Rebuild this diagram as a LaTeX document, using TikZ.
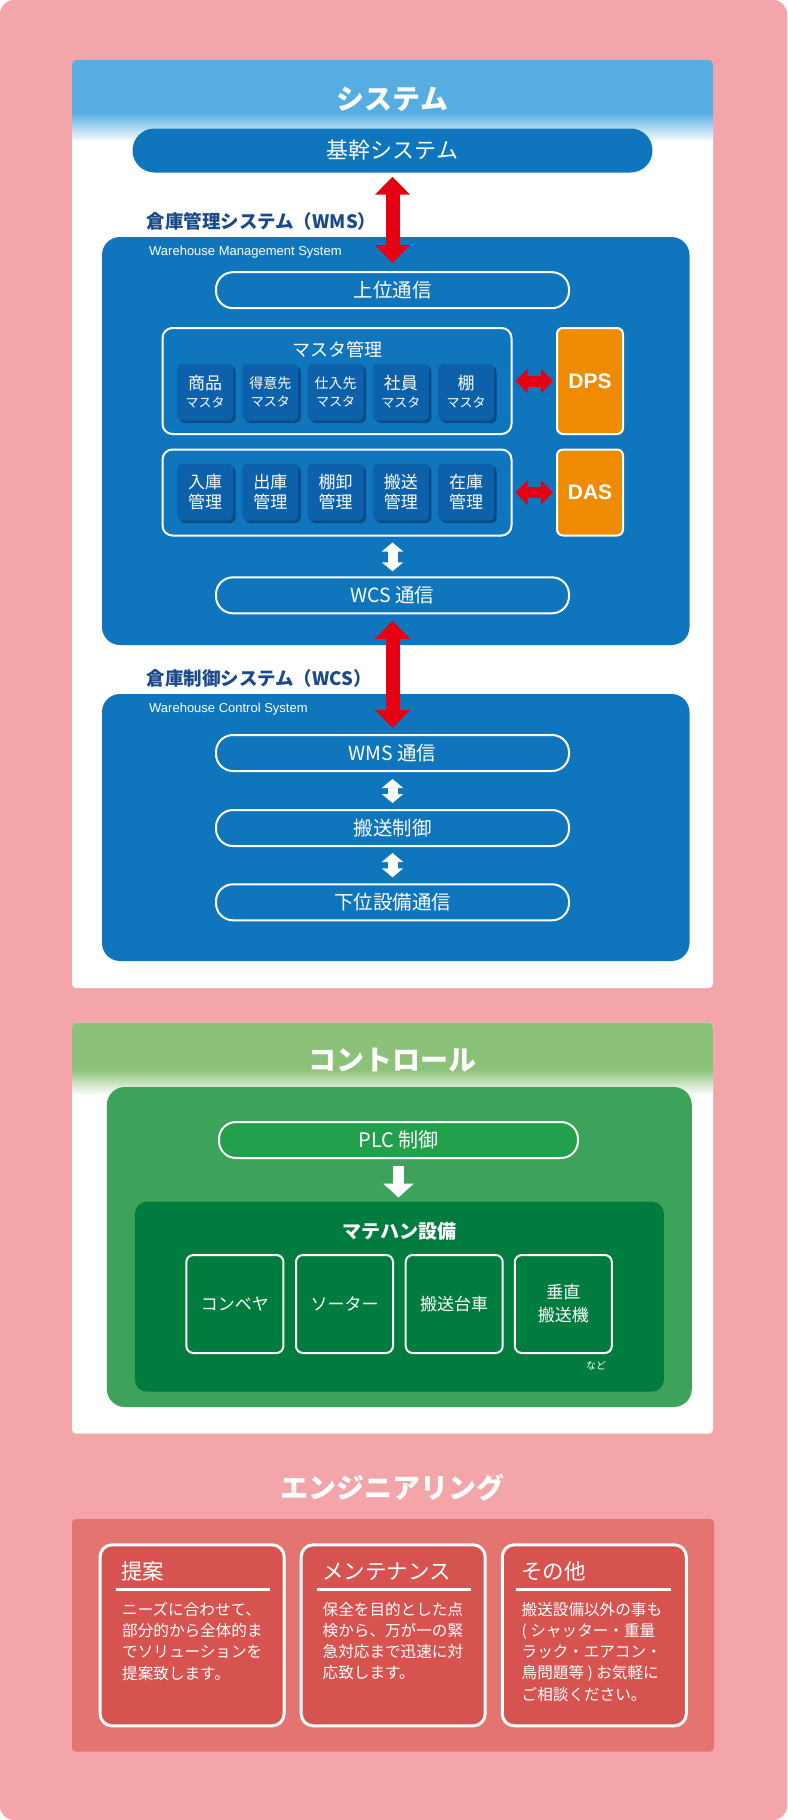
\documentclass[tikz,border=0pt]{standalone}
\usepackage{fontspec}
\setmainfont{Noto Sans CJK JP}
\newfontfamily\latinfont{Liberation Sans}
\IfFontExistsTF{Noto Sans CJK JP Black}{\newfontfamily\heavyfont{Noto Sans CJK JP Black}}{\newcommand{\heavyfont}{\bfseries}}
\usetikzlibrary{positioning}
\usetikzlibrary{arrows.meta}
\usetikzlibrary{shadows}

\definecolor{pinkbg}{HTML}{F3A5AA}
\definecolor{skyblue}{HTML}{55ADE1}
\definecolor{wmsblue}{HTML}{0F76BD}
\definecolor{masterblue}{HTML}{0D60AA}
\definecolor{shadeblue}{HTML}{0A4A85}
\definecolor{navy}{HTML}{1B4A8C}
\definecolor{signalred}{HTML}{E50012}
\definecolor{dpsorange}{HTML}{EE8B00}
\definecolor{leafgreen}{HTML}{8CC17A}
\definecolor{ctlgreen}{HTML}{3EA35A}
\definecolor{plcgreen}{HTML}{22A04B}
\definecolor{mhgreen}{HTML}{007C3F}
\definecolor{engred}{HTML}{E4746F}
\definecolor{cardred}{HTML}{D65350}

\newcommand{\pxfont}[1]{\fontsize{#1}{#1}\selectfont}

\tikzset{
  pill/.style={draw=white, line width=2pt, fill=wmsblue, rounded corners=17pt, minimum width=353pt, minimum height=36pt, inner sep=0pt, text=white, font=\pxfont{19.5}},
  groupbox/.style={draw=white, line width=2pt, fill=wmsblue, rounded corners=10pt, minimum width=349pt, inner sep=0pt},
  masterbox/.style={fill=masterblue, rounded corners=5pt, minimum width=56pt, minimum height=57pt, inner sep=0pt, text=white, align=center, drop shadow={shadow xshift=2.5pt, shadow yshift=-2.5pt, fill=shadeblue, opacity=1}},
  sidebox/.style={draw=white, line width=2pt, fill=dpsorange, rounded corners=6pt, minimum width=66pt, inner sep=0pt, text=white, font=\latinfont\bfseries\pxfont{21}},
  redarrow/.style={signalred, line width=14pt, {Triangle[length=18pt,width=34pt]}-{Triangle[length=18pt,width=34pt]}},
  sidearrow/.style={signalred, line width=11pt, {Triangle[length=12pt,width=24pt]}-{Triangle[length=12pt,width=24pt]}},
  whitearrow/.style={white, line width=10pt, {Triangle[length=9pt,width=21pt]}-{Triangle[length=9pt,width=21pt]}},
  mhbox/.style={draw=white, line width=2pt, fill=mhgreen, rounded corners=7pt, minimum width=97pt, minimum height=98pt, inner sep=0pt, text=white, align=center, font=\fontsize{17}{23}\selectfont},
  card/.style={draw=white, line width=3pt, fill=cardred, rounded corners=12pt, minimum width=184pt, minimum height=181pt, inner sep=0pt},
  cardtitle/.style={anchor=west, inner sep=0pt, text=white, font=\pxfont{21.5}},
  cardtext/.style={anchor=north west, inner sep=0pt, text=white, align=left, font=\fontsize{15.6}{21.2}\selectfont},
  headtitle/.style={text=white, font=\heavyfont\pxfont{28}}
}

\begin{document}
\begin{tikzpicture}[x=1pt,y=-1pt]
\fill[pinkbg, rounded corners=14pt] (0,0) rectangle (787,1820);
\useasboundingbox (0,0) rectangle (787,1820);

\fill[white, rounded corners=4pt] (72,60) rectangle (713,988);
\fill[skyblue, rounded corners=4pt] (72,113) |- (713,60) -- (713,113);
\shade[top color=skyblue, bottom color=white] (72,112.5) rectangle (713,142);
\node[headtitle] (systitle) at (392.5,99) {システム};

\node[fill=wmsblue, rounded corners=22pt, minimum width=520pt, minimum height=44pt, inner sep=0pt, text=white, font=\pxfont{22}] (kikan) at (392.5,150.5) {基幹システム};

\fill[wmsblue, rounded corners=18pt] (102,237) rectangle (689.5,645);
\node[anchor=west, text=navy, font=\bfseries\pxfont{18.5}] (wmslabel) at (143,221.5) {倉庫管理システム（WMS）};
\node[anchor=west, inner sep=0pt, text=white, font=\latinfont\pxfont{13}] (wmssub) at (149,251.7) {Warehouse Management System};

\node[pill] (joui) at (392.5,290.2) {上位通信};

\node[groupbox, minimum height=106pt] (master) at (337,381) {};
\node[text=white, font=\pxfont{18}] (mastertitle) at (337,350) {マスタ管理};
\node[masterbox, font=\fontsize{17}{18}\selectfont] (shohin) at (205,392) {商品\\{\pxfont{13}マスタ}};
\node[masterbox, font=\fontsize{14}{18}\selectfont] (tokui) at (270.3,392) {得意先\\{\pxfont{13}マスタ}};
\node[masterbox, font=\fontsize{14}{18}\selectfont] (shiire) at (335.6,392) {仕入先\\{\pxfont{13}マスタ}};
\node[masterbox, font=\fontsize{17}{18}\selectfont] (shain) at (400.9,392) {社員\\{\pxfont{13}マスタ}};
\node[masterbox, font=\fontsize{17}{18}\selectfont] (tana) at (466.2,392) {棚\\{\pxfont{13}マスタ}};

\node[groupbox, minimum height=86pt] (kanri) at (337,492.5) {};
\node[masterbox, font=\fontsize{17}{20}\selectfont] (nyuko) at (205,492) {入庫\\管理};
\node[masterbox, font=\fontsize{17}{20}\selectfont] (shukko) at (270.3,492) {出庫\\管理};
\node[masterbox, font=\fontsize{17}{20}\selectfont] (tanaoroshi) at (335.6,492) {棚卸\\管理};
\node[masterbox, font=\fontsize{17}{20}\selectfont] (hanso) at (400.9,492) {搬送\\管理};
\node[masterbox, font=\fontsize{17}{20}\selectfont] (zaiko) at (466.2,492) {在庫\\管理};

\node[sidebox, minimum height=106pt] (dps) at (590,381) {DPS};
\node[sidebox, minimum height=86pt] (das) at (590,492.5) {DAS};

\node[pill] (wcstsushin) at (392.5,595.3) {WCS 通信};

\fill[wmsblue, rounded corners=18pt] (102,694) rectangle (689.5,961);
\node[anchor=west, text=navy, font=\bfseries\pxfont{18.5}] (wcslabel) at (143,678) {倉庫制御システム（WCS）};
\node[anchor=west, inner sep=0pt, text=white, font=\latinfont\pxfont{13}] (wcssub) at (149,709) {Warehouse Control System};

\node[pill] (wmstsushin) at (392.5,753) {WMS 通信};
\node[pill] (hansoseigyo) at (392.5,828) {搬送制御};
\node[pill] (kaii) at (392.5,902.3) {下位設備通信};

\draw[redarrow, shorten <=4pt, shorten >=8pt] (kikan.south) -- (joui.north);
\draw[sidearrow, shorten <=3pt, shorten >=3pt] (master.east) -- (dps.west);
\draw[sidearrow, shorten <=3pt, shorten >=3pt] (kanri.east) -- (das.west);
\draw[whitearrow, shorten <=6pt, shorten >=5pt] (wcstsushin.north |- kanri.south) -- (wcstsushin.north);
\draw[redarrow, shorten <=6.5pt, shorten >=6pt] (wcstsushin.south) -- (wmstsushin.north);
\draw[whitearrow, shorten <=7pt, shorten >=6pt] (wmstsushin.south) -- (hansoseigyo.north);
\draw[whitearrow, shorten <=6pt, shorten >=6pt] (hansoseigyo.south) -- (kaii.north);

\fill[white, rounded corners=4pt] (72,1022.7) rectangle (713,1433.6);
\fill[leafgreen, rounded corners=4pt] (72,1070) |- (713,1022.7) -- (713,1070);
\shade[top color=leafgreen, bottom color=white] (72,1069.5) rectangle (713,1095);
\node[headtitle] (ctltitle) at (392.5,1060) {コントロール};

\fill[ctlgreen, rounded corners=18pt] (106.8,1087) rectangle (691.8,1407);
\node[pill, fill=plcgreen, minimum width=359pt, font=\pxfont{20}] (plc) at (398.5,1140) {PLC 制御};
\node[fill=mhgreen, rounded corners=12pt, minimum width=529pt, minimum height=190pt, inner sep=0pt] (matehan) at (399.4,1296.7) {};
\node[text=white, font=\bfseries\pxfont{19}] (matehantitle) at (399.4,1231.7) {マテハン設備};
\node[mhbox] (conveyor) at (234.9,1304) {コンベヤ};
\node[mhbox] (sorter) at (344.5,1304) {ソーター};
\node[mhbox] (daisha) at (454.2,1304) {搬送台車};
\node[mhbox] (suichoku) at (563.3,1304) {垂直\\搬送機};
\node[text=white, font=\pxfont{10}, inner sep=0pt] (nado) at (596,1366) {など};

\draw[white, line width=11pt, -{Triangle[length=14pt,width=30pt]}, shorten <=6.5pt, shorten >=4pt] (plc.south) -- (plc.south |- matehan.north);

\node[headtitle] (engtitle) at (392.5,1488) {エンジニアリング};
\fill[engred, rounded corners=4pt] (72,1519) rectangle (714,1751.7);

\node[card] (teian) at (192.1,1635.3) {};
\node[card] (maint) at (393.2,1635.3) {};
\node[card] (sonota) at (594.3,1635.3) {};

\node[cardtitle] (teiantitle) at (121,1571.7) {提案};
\node[cardtitle] (mainttitle) at (322,1571.7) {メンテナンス};
\node[cardtitle] (sonotatitle) at (521,1571.7) {その他};
\draw[white, line width=2.5pt] (115.5,1589.3) -- (269.5,1589.3);
\draw[white, line width=2.5pt] (317,1589.3) -- (471,1589.3);
\draw[white, line width=2.5pt] (516,1589.3) -- (671,1589.3);

\node[cardtext] (teiantext) at (122,1602) {ニーズに合わせて、\\部分的から全体的ま\\でソリューションを\\提案致します。};
\node[cardtext] (mainttext) at (322.5,1602) {保全を目的とした点\\検から、万が一の緊\\急対応まで迅速に対\\応致します。};
\node[cardtext] (sonotatext) at (521.5,1602) {搬送設備以外の事も\\( シャッター・重量\\ラック・エアコン・\\鳥問題等 ) お気軽に\\ご相談ください。};

\end{tikzpicture}
\end{document}
